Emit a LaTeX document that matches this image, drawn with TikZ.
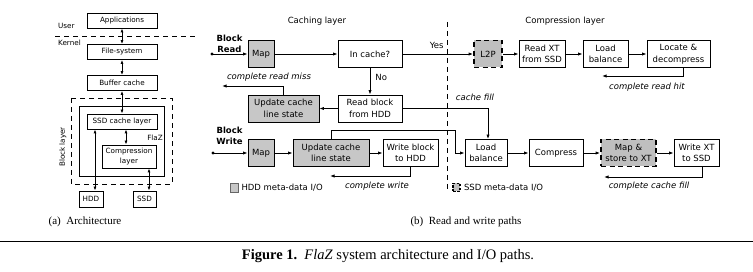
\documentclass[tikz,border=0pt]{standalone}
\usepackage{fontspec}
\setmainfont{Liberation Serif}
\newfontfamily\boxfont{DejaVu Sans}
\usetikzlibrary{arrows.meta}

\tikzset{
  archblk/.style={draw, line width=0.8pt, inner sep=0pt, align=center,
    font=\boxfont\fontsize{7.2}{10.5}\selectfont},
  abox/.style={archblk, minimum width=70pt, minimum height=15pt},
  pathblk/.style={draw, line width=0.8pt, inner sep=0pt, align=center,
    minimum height=27pt, font=\boxfont\fontsize{8.5}{11.5}\selectfont},
  hddmeta/.style={fill=black!22},
  ssdmeta/.style={fill=black!25, line width=1.8pt, dash pattern=on 5pt off 3.5pt},
  lbl/.style={inner sep=0pt, font=\boxfont\fontsize{8.5}{11.5}\selectfont},
  alabel/.style={inner sep=0pt, font=\boxfont\fontsize{7.2}{10.5}\selectfont},
  both/.style={{Latex[length=4pt,width=3pt]}-{Latex[length=4pt,width=3pt]}, line width=0.8pt},
  conn/.style={-{Latex[length=4.5pt,width=3.2pt]}, line width=0.8pt},
  sepline/.style={line width=0.9pt, dash pattern=on 5pt off 4pt}
}

\begin{document}
\begin{tikzpicture}[x=1pt,y=-1pt]
  \useasboundingbox (0,0) rectangle (753,272);

  % (a) layered architecture
  \node[abox] (apps) at (122,20.5) {Applications};
  \node[abox] (fs) at (122,52) {File-system};
  \node[abox] (buf) at (122,83) {Buffer cache};
  \node[abox] (ssdc) at (122,121.5) {SSD cache layer};
  \node[archblk, minimum width=54pt, minimum height=23pt] (comp) at (129,156.5) {Compression\\layer};
  \node[archblk, minimum width=24pt, minimum height=16pt] (hdd) at (91,199) {HDD};
  \node[archblk, minimum width=23pt, minimum height=16pt] (ssd) at (144.5,199) {SSD};
  \draw[sepline] (55,36) -- (195,36);
  \draw[sepline] (71,98) rectangle (172,184);
  \draw[line width=0.8pt] (79,106) rectangle (164,176);
  \node[alabel, anchor=west] at (58,26) {User};
  \node[alabel, anchor=west] at (58,43) {Kernel};
  \node[alabel, rotate=90] at (63,147) {Block layer};
  \node[alabel] at (155,138) {FlaZ};
  \draw[both] (apps) -- (fs);
  \draw[both] (fs) -- (buf);
  \draw[both] (buf) -- (ssdc);
  \draw[both] ([xshift=-3pt]comp.north) -- ([xshift=-3pt]comp.north |- ssdc.south);
  \draw[both] ([xshift=4pt]hdd.north) -- ([xshift=4pt]hdd.north |- ssdc.south);
  \draw[both] ([xshift=4.5pt]ssd.north) -- ([xshift=4.5pt]ssd.north |- comp.south);
  \node[font=\fontsize{11}{13}\selectfont] at (85,222) {(a)\enspace Architecture};

  % (b) read path
  \node[lbl] at (317,21) {Caching layer};
  \node[lbl] at (565,21) {Compression layer};
  \draw[sepline] (447,22) -- (447,192);
  \node[lbl, font=\boxfont\bfseries\fontsize{8.5}{11.5}\selectfont, align=center] at (229.5,44) {Block\\Read};
  \fill (212,54) circle (1.6) coordinate (rdot);
  \node[pathblk, hddmeta, minimum width=26pt] (rmap) at (261,54) {Map};
  \node[pathblk, minimum width=64pt] (incache) at (370,54) {In cache?};
  \node[pathblk, ssdmeta, draw, minimum width=28pt] (l2p) at (488,54) {L2P};
  \node[pathblk, minimum width=46pt] (rxt) at (542,54) {Read XT\\from SSD};
  \node[pathblk, minimum width=45pt] (rlb) at (605.5,54) {Load\\balance};
  \node[pathblk, minimum width=63pt] (locate) at (678.5,54) {Locate \&\\decompress};
  \node[pathblk, minimum width=64pt] (rdhdd) at (370,108.5) {Read block\\from HDD};
  \node[pathblk, hddmeta, minimum width=71pt] (rupd) at (283.5,108.5) {Update cache\\line state};
  \draw[conn] (rdot) -- (rmap);
  \draw[conn] (rmap) -- (incache);
  \draw[conn] (incache) -- (l2p) node[lbl, midway, above=5pt, xshift=-1pt] {Yes};
  \draw[conn] (l2p) -- (rxt);
  \draw[conn] (rxt) -- (rlb);
  \draw[conn] (rlb) -- (locate);
  \draw[conn] (incache) -- (rdhdd) node[lbl, midway, right=5pt, yshift=4pt] {No};
  \draw[conn] (rdhdd) -- (rupd);
  \coordinate (rmissend) at (222,86);
  \draw[conn] (rupd.north) |- (rmissend);
  \node[lbl, font=\boxfont\itshape\fontsize{8.5}{11.5}\selectfont] at (269,77) {complete read miss};
  \coordinate (rhitend) at (602,76);
  \draw[conn] ([xshift=4.5pt]locate.south) |- (rhitend);
  \node[lbl, font=\boxfont\itshape\fontsize{8.5}{11.5}\selectfont] at (647,87) {complete read hit};

  % (b) write path
  \node[lbl, font=\boxfont\bfseries\fontsize{8.5}{11.5}\selectfont, align=center] at (229.5,136) {Block\\Write};
  \fill (213,153) circle (1.6) coordinate (wdot);
  \node[pathblk, hddmeta, minimum width=26pt] (wmap) at (261,153) {Map};
  \node[pathblk, hddmeta, minimum width=76pt] (wupd) at (331,153) {Update cache\\line state};
  \node[pathblk, minimum width=55pt] (wrhdd) at (410.5,153) {Write block\\to HDD};
  \node[pathblk, minimum width=42pt] (wlb) at (486,153) {Load\\balance};
  \node[pathblk, minimum width=54pt] (compress) at (556,153) {Compress};
  \node[pathblk, ssdmeta, draw, minimum width=55pt] (mapstore) at (628.5,153) {Map \&\\store to XT};
  \node[pathblk, minimum width=45pt] (wxt) at (696.5,153) {Write XT\\to SSD};
  \draw[conn] (wdot) -- (wmap);
  \draw[conn] (wmap) -- (wupd);
  \draw[conn] (wupd) -- (wrhdd);
  \draw[conn] (wlb) -- (compress);
  \draw[conn] (compress) -- (mapstore);
  \draw[conn] (mapstore) -- (wxt);
  \draw[conn] (rdhdd.east) -| ([xshift=2pt]wlb.north);
  \node[lbl, font=\boxfont\itshape\fontsize{8.5}{11.5}\selectfont] at (475,97) {cache fill};
  \coordinate (wturn) at (455,130);
  \draw[conn] (wupd.north) |- (wturn) |- (wlb.west);
  \coordinate (wdoneend) at (330,176);
  \draw[conn] (wrhdd.south) |- (wdoneend);
  \node[lbl, font=\boxfont\itshape\fontsize{8.5}{11.5}\selectfont] at (377,186) {complete write};
  \coordinate (wfillend) at (604,177);
  \draw[conn] ([xshift=5.5pt]wxt.south) |- (wfillend);
  \node[lbl, font=\boxfont\itshape\fontsize{8.5}{11.5}\selectfont] at (649,186) {complete cache fill};

  % legend
  \node[hddmeta, draw=black!60, line width=0.6pt, minimum width=8pt, minimum height=9pt, inner sep=0pt] (hddkey) at (234,187.5) {};
  \node[lbl, anchor=west] at ([xshift=3pt]hddkey.east) {HDD meta-data I/O};
  \node[ssdmeta, draw, line width=1.6pt, dash pattern=on 2.5pt off 1.5pt, minimum width=7pt, minimum height=8pt, inner sep=0pt] (ssdkey) at (456.5,187.5) {};
  \node[lbl, anchor=west] at ([xshift=3pt]ssdkey.east) {SSD meta-data I/O};
  \node[font=\fontsize{11}{13}\selectfont] at (466,222) {(b)\enspace Read and write paths};

  \draw[line width=1pt] (0,242) -- (753,242);
  \node[font=\fontsize{14.5}{16}\selectfont] at (388,256) {\textbf{Figure 1.}\enspace\textit{FlaZ} system architecture and I/O paths.};
\end{tikzpicture}
\end{document}
